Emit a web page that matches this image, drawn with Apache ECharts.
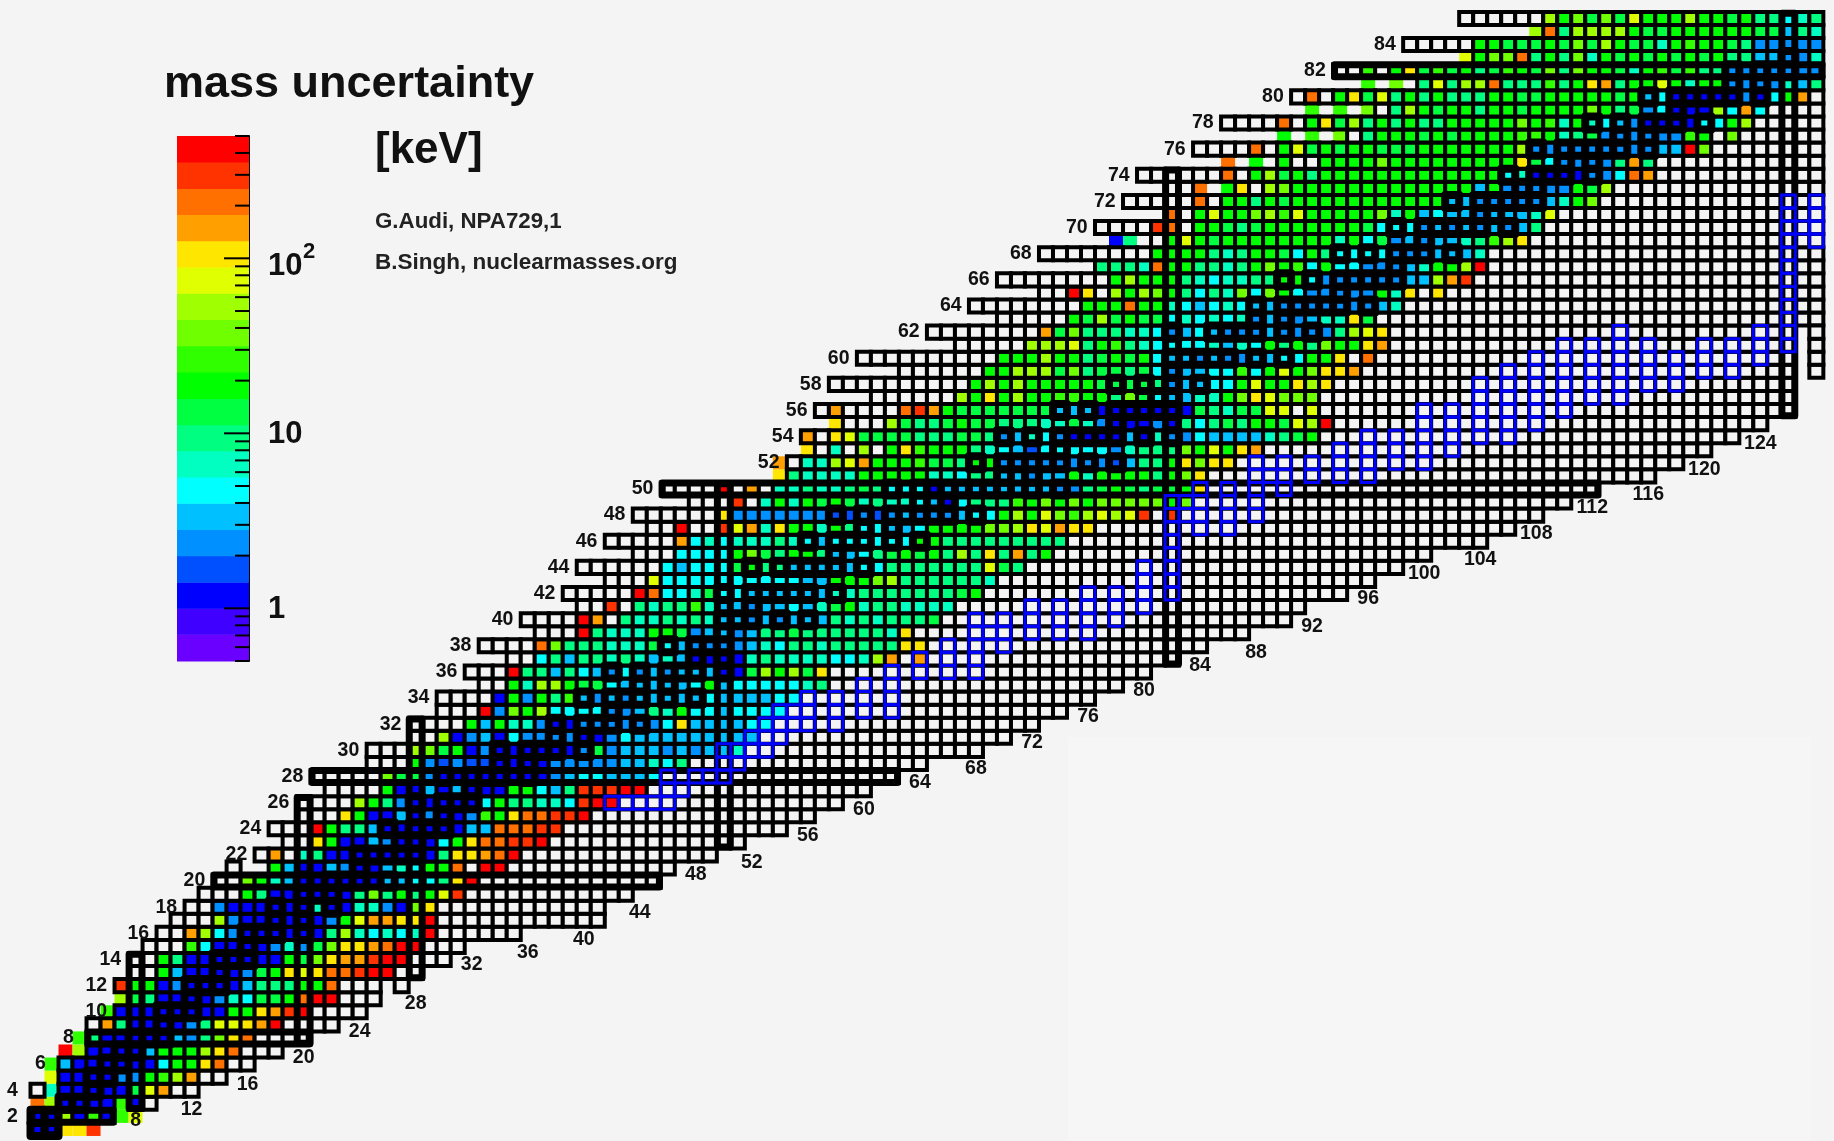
<!DOCTYPE html>
<html>
<head>
<meta charset="utf-8">
<title>mass uncertainty</title>
<script src="https://cdn.jsdelivr.net/npm/echarts@6/dist/echarts.min.js"></script>
<style>
  html, body { margin: 0; background: #f4f4f4; overflow: hidden; }
  #main { width: 1834px; height: 1141px; filter: blur(0.5px); }
</style>
</head>
<body>
<div id="main"></div>
<script>
// colour bands, lowest to highest, letter a = first band
const bandColors = ['#6a00ff', '#4000ff', '#0000ff', '#0050ff', '#0090ff', '#00c0ff', '#00ffff', '#00ffc0', '#00ff80', '#00ff40',
  '#00ff00', '#30ff00', '#70ff00', '#a0ff00', '#e0ff00', '#ffe600', '#ffa000', '#ff7000', '#ff3300', '#ff0000']
const bandEdges = [0.5, 0.71, 1, 1.41, 2, 2.82, 3.98, 5.62, 7.94, 11.2, 15.8, 22.4, 31.6, 44.7, 63.1, 89.1, 126, 178, 251, 355, 500]
const colorbarMajorTicks = [1, 10, 100]
const colorbarMinorTicks = [0.5, 0.6, 0.7, 0.8, 0.9, 2, 3, 4, 5, 6, 7, 8, 9, 20, 30, 40, 50, 60, 70, 80, 90, 200, 300, 400, 500]
const colorbarLabels = ['1', '10', '10']
const colorbarExponents = ['', '', '2']

// one entry per Z = 1..86. letter = band, '.' = empty box, '_' = nothing,
// capital = coloured without box. a row is filled with '.' up to its last N
const rowFirstN = [1, 1, 1, 1, 2, 2, 3, 4, 5, 6, 7, 7, 8, 8, 9, 10, 11, 12, 13, 14, 15, 17, 19, 18, 20, 20, 22, 21, 25, 25, 28, 28, 30, 30, 33, 32, 35, 33, 37, 36, 40, 39, 42, 40, 44, 42, 45, 44, 48, 46, 54, 54, 56, 56, 58, 57, 61, 58, 63, 60, 67, 65, 70, 68, 73, 70, 77, 73, 78, 77, 82, 79, 82, 80, 86, 84, 90, 86, 92, 91, 96, 94, 103, 99, 108, 103]
const rowLastN = [5, 8, 9, 12, 14, 16, 18, 20, 22, 24, 25, 27, 28, 30, 31, 35, 41, 41, 43, 45, 46, 49, 51, 54, 56, 58, 60, 62, 64, 68, 70, 72, 74, 76, 78, 80, 82, 84, 87, 90, 91, 94, 96, 98, 100, 104, 106, 108, 110, 112, 116, 118, 120, 122, 124, 126, 126, 126, 126, 126, 126, 126, 128, 128, 128, 128, 128, 128, 128, 128, 128, 128, 128, 128, 128, 128, 128, 128, 128, 128, 128, 128, 128, 128, 128, 128]
const rowCells = [
  'ccPPS',
  'ccnclcLO',
  'RNccccLc.',
  '.Hcccccjoq..',
  'Occcceeklnq..',
  'Lfccccccgkkpr..',
  'TNccccfkkknpr...',
  'Licccccfeimpr',
  '.qicccceioopqt',
  'Lcccccccckkpqst',
  'Njiccccehgjjkrtt',
  'skkceccccfiiikkr..._.',
  '..kfccccejkpoprrstt',
  '..kiccccccckjmpqqstt',
  '...lgccccehejmppqrtt',
  '..qngeccccccinhghght',
  '...neccccccekoqqppt',
  '..ecccccchcchhecmp',
  '...kiccccccimikikos',
  '..mkhfccccccffggipt',
  '.__kfccfeccfhgkkr.tt',
  '.q.hiccccccccippqrt',
  '..pkccfecccgkprrsst',
  '...tkiifccccccffrrrss',
  '...pkccfceccelkprrsst',
  '....nkiecccccgkiihhgstt',
  '....kccfcfccckkgfissstt',
  '.....mjjeccccccccefggfffg',
  '...kededdcccceeeeeffhgi',
  '...nmjkceccccccejefffefeffh',
  '..ncefcgeeeecceg' + 'fffffffff',
  '....kfkhhecceeeeeegpffffgg',
  '...temknggggeefihkggfgggg',
  '....ckekilfefefffffgffffgg',
  '..khnnkjjgfffffgkfggggghi',
  '...tiifigfegefefffccjnknjp',
  '..gifiihihfhfcccchihhhhgghnq.q',
  '....rmiiihhhjgfeeeefhgiihiiiiipp',
  '...tihhhkkjeffefiijiiiiiihp',
  '....tq.ihhihihffefefffihihiiij',
  '..s.ihiilhffeffgfhjkhiihhhh',
  '.....trgghjggffffffhhiiiiiiijk',
  '...oggggggggggffkkkmniiiiiih',
  '......gfgggjkiifffffggiiiiiiioji',
  '...ggggkmjikkiffgijkjkinipiqik',
  '.....qghghhhihgfggggggkkiiiiiiiii',
  '..t..soqhpkkhkiggffgkkkkmmnpoqpp',
  '......peeeeeeeddedefeeefggknkomlnonos.s',
  '...s.hkhkjkjhihhgfcgiiilkmkmkmmmmmkm',
  '....t.q.hhihhijigggcffffffffeeijkjijjkp',
  'Pihhhhkkkkkhhgiiffeffkhkkkkikmp',
  'Q.hhnoqkkkljjikkeeeeeeeedfiikpmpp',
  'P.h.n.kplkkkihgfdgggggehiiimkokpq',
  'q.pojjjjiiijjiefhgeccccfcheegffffhijk',
  'P...njiijkjjiiihhjhecccecigijikkjont',
  '.q....rsqkjjjjjjjfffcccccccjihjjoo.o',
  '......nkpknkkllkkimjgffhhkmpommm',
  '..........knknkkkkkjjjjieffggkokkpnp',
  '......kknnnjmijjijgeffgglgkokmppq',
  '..........kkknkkijkjkgffefeeffggkkp.r',
  '.....nnnoiklihgggghfhgkikimkkpq',
  '........qjmiiihhgefgfeeefeeeeinop',
  '.....kjnjkjjghghghefeefhhpj',
  '........kkkrkkhgfghgffeeeeeeefh',
  '..tp.nknmkigihmgmkgeeeeekhp.p',
  '........knkkkihghhiikkgeeeeeeffnqs',
  'iiihrkkiihikmklgkggeeefhkknt',
  '........kkkkihikkjgkiggggeeefffh',
  'CI_.kokjkkkkkkkkhkgjefeffhilnp',
  '....sr.kkjijkkkkkkkjgggefefefefi',
  'r.kokkmnlokkkkkmhkfgffefffho',
  '.....r.kkikjkkkkkkkkkkkffeeeeefhkm',
  '..R_Kp.nmkkkkkkkkkkkkkfkeeeeekjn',
  '......r.knjkikkkkkkkkkkkkkghcccceegrq',
  'R_K_k..kkkkmkkkkkkkkkpjgeeeeiqi',
  '....r.kojkjkkjjjkkkkkkkneeeeeeeeefftm',
  'K_L_M.ikkkjkjkkkkllkhijeeeeeelk.m',
  '....r.kpjnikikiikkkkkmklhkhgfeccccggkn',
  'L_L_M.inkjkkikkjkkkkmkijegcccngqg',
  '.r.kpjoikikiiikkjjkkkkkjkfgcccccecgkq.',
  'L_M_ioinnriiilikpqikkokhkkeeeehfi',
  '..l.kpjljkijlkjmimkkjhkljliieeeeeee',
  'Okmmrikimhkjkjkjkjkiiffeeh',
  '.....kkjjjkjmjnkjjhklkkjieeeee',
  'Nrinnnnkjjkkkkkkjjfih',
  '......nkmjmjokkknkkjkiighi'
]
const tailCellsN = [128, 128, 128, 128]
const tailCellsZ = [59, 60, 61, 62]

// stable nuclides, N values per Z = 1..83 (thick boxes)
const stableN = [[1, 2], [1, 2], [3, 4], [5], [5, 6], [6, 7], [7, 8], [8, 9, 10], [10], [10, 11, 12], [12], [12, 13, 14], [14], [14, 15, 16], [16], [16, 17, 18, 20], [18, 20], [18, 20, 22], [20, 21, 22], [20, 22, 23, 24, 26, 28], [24], [24, 25, 26, 27, 28], [27, 28], [26, 28, 29, 30], [30], [28, 30, 31, 32], [32], [30, 32, 33, 34, 36], [34, 36], [34, 36, 37, 38, 40], [38, 40], [38, 40, 41, 42, 44], [42], [40, 42, 43, 44, 46, 48], [44, 46], [42, 44, 46, 47, 48, 50], [48, 50], [46, 48, 49, 50], [50], [50, 51, 52, 54, 56], [52], [50, 52, 53, 54, 55, 56, 58], [], [52, 54, 55, 56, 57, 58, 60], [58], [56, 58, 59, 60, 62, 64], [60, 62], [58, 60, 62, 63, 64, 65, 66, 68], [64, 66], [62, 64, 65, 66, 67, 68, 69, 70, 72, 74], [70, 72], [68, 70, 71, 72, 73, 74, 76, 78], [74], [70, 72, 74, 75, 76, 77, 78, 80, 82], [78], [74, 76, 78, 79, 80, 81, 82], [81, 82], [78, 80, 82, 84], [82], [82, 83, 84, 85, 86, 88, 90], [], [82, 85, 86, 87, 88, 90, 92], [88, 90], [88, 90, 91, 92, 93, 94, 96], [94], [90, 92, 94, 95, 96, 97, 98], [98], [94, 96, 98, 99, 100, 102], [100], [98, 100, 101, 102, 103, 104, 106], [104, 105], [102, 104, 105, 106, 107, 108], [107, 108], [106, 108, 109, 110, 112], [110, 112], [108, 110, 111, 112, 113, 114, 116], [114, 116], [112, 114, 116, 117, 118, 120], [118], [116, 118, 119, 120, 121, 122, 124], [122, 124], [122, 124, 125, 126], [126]]

// magic numbers
const magicZ = [2, 8, 20, 28, 50, 82]
const magicZFromN = [1, 5, 14, 21, 46, 94]
const magicZToN = [6, 20, 45, 62, 112, 128]
const magicN = [2, 8, 20, 28, 50, 82, 126]
const magicNFromZ = [1, 3, 8, 13, 23, 37, 56]
const magicNToZ = [2, 14, 26, 32, 50, 74, 86]

// blue path, column N with its Z range
const pathN = [42, 43, 44, 45, 46, 47, 48, 49, 50, 51, 52, 53, 54, 55, 56, 58, 60, 62, 64, 66, 68, 69, 70, 72, 74, 76, 78, 80, 82, 83, 84, 86, 88, 89, 90, 92, 94, 96, 98, 100, 102, 104, 106, 108, 110, 112, 114, 116, 118, 120, 122, 124, 126, 127, 128]
const pathFromZ = [26, 26, 26, 26, 26, 27, 28, 28, 28, 29, 30, 30, 31, 32, 32, 32, 33, 33, 36, 36, 36, 39, 38, 39, 39, 39, 40, 41, 42, 48, 47, 47, 48, 51, 50, 51, 51, 51, 52, 52, 53, 54, 54, 55, 56, 57, 57, 58, 58, 59, 59, 60, 61, 70, 69]
const pathToZ = [26, 26, 26, 26, 28, 27, 28, 28, 30, 30, 31, 32, 33, 33, 34, 34, 35, 36, 37, 38, 40, 39, 40, 41, 41, 42, 42, 44, 49, 49, 50, 50, 52, 51, 52, 52, 53, 54, 54, 56, 56, 58, 59, 60, 61, 61, 62, 61, 60, 61, 61, 62, 72, 70, 72]

// tick labels along the chart
const zLabels = [2, 4, 6, 8, 10, 12, 14, 16, 18, 20, 22, 24, 26, 28, 30, 32, 34, 36, 38, 40, 42, 44, 46, 48, 50, 52, 54, 56, 58, 60, 62, 64, 66, 68, 70, 72, 74, 76, 78, 80, 82, 84]
const nLabels = [8, 12, 16, 20, 24, 28, 32, 36, 40, 44, 48, 52, 56, 60, 64, 68, 72, 76, 80, 84, 88, 92, 96, 100, 104, 108, 112, 116, 120, 124]
const nLabelZ = [1.65, 2.55, 4.4, 6.5, 8.45, 10.6, 13.6, 14.5, 15.5, 17.6, 20.5, 21.4, 23.5, 25.5, 27.5, 28.6, 30.6, 32.6, 34.6, 36.5, 37.5, 39.5, 41.6, 43.5, 44.6, 46.6, 48.6, 49.6, 51.5, 53.5]

function bandOf(ch) {
  return ch.toLowerCase().charCodeAt(0) - 97
}

function cellChar(n, z) {
  const s = rowCells[z - 1]
  const i = n - rowFirstN[z - 1]
  if (i < 0 || n > rowLastN[z - 1]) return '_'
  return i < s.length ? s[i] : '.'
}

const boxed = []
const open = []
rowCells.forEach((s, i) => {
  const z = i + 1
  for (let n = rowFirstN[i]; n <= rowLastN[i]; n++) {
    const ch = cellChar(n, z)
    if (ch === '_') continue
    if (ch === '.') boxed.push([n, z, -1])
    else if (ch === ch.toUpperCase()) open.push([n, z, bandOf(ch)])
    else boxed.push([n, z, bandOf(ch)])
  }
})
tailCellsN.forEach((n, i) => boxed.push([n, tailCellsZ[i], -1]))

const stable = []
stableN.forEach((list, i) => {
  list.forEach(n => {
    const ch = cellChar(n, i + 1)
    stable.push([n, i + 1, ch === '_' || ch === '.' ? -1 : bandOf(ch)])
  })
})

const path = []
pathN.forEach((n, i) => {
  for (let z = pathFromZ[i]; z <= pathToZ[i]; z++) path.push([n, z])
})

const magicBars = []
magicZ.forEach((z, i) => magicBars.push([magicZFromN[i] - 0.4, z - 0.46, magicZToN[i] + 0.4, z + 0.46]))
magicN.forEach((n, i) => magicBars.push([n - 0.46, magicNFromZ[i] - 0.4, n + 0.46, magicNToZ[i] + 0.4]))

const labelData = []
zLabels.forEach(z => {
  // sits left of the first boxed cell of the row
  const s = rowCells[z - 1]
  let k = 0
  while (k < s.length && s[k] !== '.' && s[k] === s[k].toUpperCase()) k++
  labelData.push([rowFirstN[z - 1] + k - 1.8, z, String(z)])
})
nLabels.forEach((n, i) => labelData.push([n, nLabelZ[i], String(n)]))

function cellRender(width, stroke, round) {
  return (params, api) => {
    const p = api.coord([api.value(0), api.value(1)])
    const size = api.size([1, 1])
    const band = api.value(2)
    return {
      type: 'rect',
      shape: { x: p[0] - size[0] / 2, y: p[1] - size[1] / 2, width: size[0], height: size[1] },
      style: {
        fill: band >= 0 ? bandColors[band] : '#f4f4f4',
        stroke: stroke,
        lineWidth: width,
        lineJoin: round ? 'round' : 'miter'
      }
    }
  }
}

const chart = echarts.init(document.getElementById('main'))
chart.setOption({
  backgroundColor: '#f4f4f4',
  animation: false,
  tooltip: { show: false },
  grid: [
    { left: 0, right: 0, top: 0, bottom: 0 },
    { left: 177, top: 136, width: 72, height: 525 }
  ],
  xAxis: [
    { type: 'value', min: -1.678, max: 129.26, show: false },
    { type: 'value', gridIndex: 1, min: 0, max: 1, show: false }
  ],
  yAxis: [
    { type: 'value', min: 0.115, max: 87.41, show: false },
    {
      type: 'log',
      gridIndex: 1,
      position: 'right',
      min: 0.5,
      max: 500,
      axisLine: { show: true, onZero: false, lineStyle: { color: '#000', width: 2 }},
      axisTick: { show: false },
      axisLabel: { show: false },
      splitLine: { show: false }
    }
  ],
  graphic: [
    { type: 'rect', silent: true, z: -1, shape: { x: 1068, y: 737, width: 743, height: 404 }, style: { fill: '#f6f6f6' }},
    { type: 'text', silent: true, left: 164, top: 62, style: { text: 'mass uncertainty', font: 'bold 45px "Liberation Sans"', fill: '#111' }},
    { type: 'text', silent: true, left: 375, top: 129, style: { text: '[keV]', font: 'bold 44px "Liberation Sans"', fill: '#111' }},
    { type: 'text', silent: true, left: 375, top: 211, style: { text: 'G.Audi, NPA729,1', font: 'bold 22.3px "Liberation Sans"', fill: '#222' }},
    { type: 'text', silent: true, left: 375, top: 251, style: { text: 'B.Singh, nuclearmasses.org', font: 'bold 22.5px "Liberation Sans"', fill: '#222' }}
  ],
  series: [
    { type: 'custom', name: 'open', silent: true, z: 2, data: open, progressive: 0, renderItem: cellRender(0, null, false) },
    { type: 'custom', name: 'cells', silent: true, z: 3, data: boxed, progressive: 0, renderItem: cellRender(4, '#000', false) },
    { type: 'custom', name: 'stable', silent: true, z: 4, data: stable, progressive: 0, renderItem: cellRender(8, '#000', true) },
    {
      type: 'custom',
      name: 'magic',
      silent: true,
      z: 5,
      data: magicBars,
      renderItem(params, api) {
        const a = api.coord([api.value(0), api.value(1)])
        const b = api.coord([api.value(2), api.value(3)])
        return {
          type: 'rect',
          shape: { x: a[0], y: b[1], width: b[0] - a[0], height: a[1] - b[1] },
          style: { fill: 'none', stroke: '#000', lineWidth: 7, lineJoin: 'round' }
        }
      }
    },
    {
      type: 'custom',
      name: 'path',
      silent: true,
      z: 6,
      data: path,
      progressive: 0,
      renderItem(params, api) {
        const p = api.coord([api.value(0), api.value(1)])
        const size = api.size([1, 1])
        return {
          type: 'rect',
          shape: { x: p[0] - size[0] / 2, y: p[1] - size[1] / 2, width: size[0], height: size[1] },
          style: { fill: 'none', stroke: '#0000ff', lineWidth: 3 }
        }
      }
    },
    {
      type: 'custom',
      name: 'labels',
      silent: true,
      z: 7,
      data: labelData.map(d => [d[0], d[1]]),
      renderItem(params, api) {
        const p = api.coord([api.value(0), api.value(1)])
        return {
          type: 'text',
          style: {
            x: p[0],
            y: p[1],
            text: labelData[params.dataIndex][2],
            align: 'center',
            verticalAlign: 'middle',
            font: 'bold 19.5px "Liberation Sans"',
            fill: '#111'
          }
        }
      }
    },
    // colour bar
    {
      type: 'custom',
      name: 'colorbar',
      silent: true,
      xAxisIndex: 1,
      yAxisIndex: 1,
      data: bandColors.map((c, i) => [0, bandEdges[i], bandEdges[i + 1]]),
      encode: { x: 0, y: [1, 2] },
      renderItem(params, api) {
        const a = api.coord([0, api.value(1)])
        const b = api.coord([1, api.value(2)])
        return {
          type: 'rect',
          shape: { x: a[0], y: b[1], width: b[0] - a[0], height: a[1] - b[1] + 0.5 },
          style: { fill: bandColors[params.dataIndex] }
        }
      }
    },
    {
      type: 'custom',
      name: 'colorbarTicks',
      silent: true,
      xAxisIndex: 1,
      yAxisIndex: 1,
      z: 3,
      data: colorbarMajorTicks.map(v => [1, v, 25]).concat(colorbarMinorTicks.map(v => [1, v, 14])),
      renderItem(params, api) {
        const p = api.coord([1, api.value(1)])
        return {
          type: 'line',
          shape: { x1: p[0], y1: p[1], x2: p[0] - api.value(2), y2: p[1] },
          style: { stroke: '#000', lineWidth: 2 }
        }
      }
    },
    {
      type: 'custom',
      name: 'colorbarLabels',
      silent: true,
      xAxisIndex: 1,
      yAxisIndex: 1,
      z: 3,
      data: colorbarMajorTicks.map(v => [1, v]),
      renderItem(params, api) {
        const p = api.coord([1, api.value(1)])
        const exponent = colorbarExponents[params.dataIndex]
        // the label with an exponent hangs a little below its tick in the reference
        const y = p[1] + (exponent ? 8 : 1)
        return {
          type: 'group',
          children: [
            {
              type: 'text',
              style: { x: p[0] + 19, y: y, text: colorbarLabels[params.dataIndex], align: 'left', verticalAlign: 'middle', font: 'bold 31px "Liberation Sans"', fill: '#111' }
            },
            {
              type: 'text',
              style: { x: p[0] + 54, y: y - 14, text: exponent, align: 'left', verticalAlign: 'middle', font: 'bold 22px "Liberation Sans"', fill: '#111' }
            }
          ]
        }
      }
    }
  ]
})
</script>
</body>
</html>
